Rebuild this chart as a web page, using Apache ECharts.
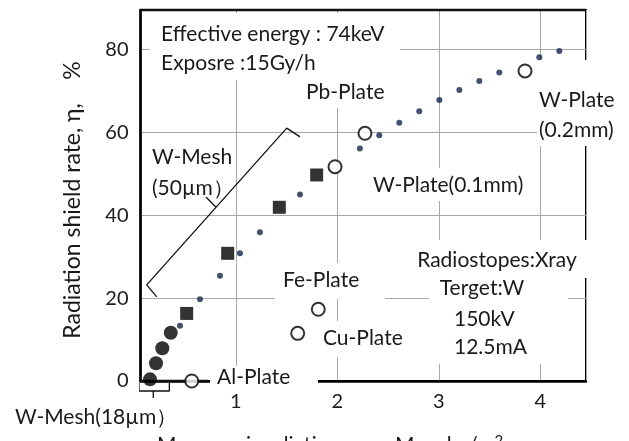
<!DOCTYPE html>
<html>
<head>
<meta charset="utf-8">
<script src="https://cdn.jsdelivr.net/npm/echarts@6/dist/echarts.min.js"></script>
<style>
html, body { margin: 0; padding: 0; background: #fff; }
#chart { width: 629px; height: 441px; }
</style>
</head>
<body>
<div id="chart"></div>
<script>
// Mass per irradiation area (kg/m2) vs radiation shield rate (%)
const xRange = [0.06, 4.45];
const yRange = [0, 89.5];

// stacked W-Mesh (18 µm) layers
const mesh18 = [[0.154, 0.4], [0.213, 4.27], [0.275, 7.89], [0.358, 11.65]];
// stacked W-Mesh (50 µm) layers
const mesh50 = [[0.515, 16.3], [0.919, 30.8], [1.428, 41.9], [1.796, 49.7]];
// calculated W shield curve
const wCurve = [
  [0.449, 13.3], [0.646, 19.7], [0.843, 25.4], [1.040, 30.8], [1.237, 35.9],
  [1.632, 45.0], [2.222, 56.1], [2.413, 59.3], [2.610, 62.3], [2.807, 65.1],
  [3.005, 67.8], [3.202, 70.2], [3.399, 72.4], [3.596, 74.4], [3.990, 78.1],
  [4.187, 79.6]
];
// metal plates
const plateNames = ['Al-Plate', 'Cu-Plate', 'Fe-Plate', 'W-Plate(0.1mm)', 'Pb-Plate', 'W-Plate(0.2mm)'];
const plateMass = [0.565, 1.609, 1.812, 1.977, 2.272, 3.849];
const plateRate = [0, 11.5, 17.3, 51.7, 59.75, 74.8];

// bracket grouping the 50 µm mesh layers
const bracket50 = [[0.220, 20.3], [0.121, 23.2], [1.501, 61.0], [1.632, 58.9]];
const bracket50Tick = [[0.804, 41.9], [0.705, 44.4]];
// bracket under the 18 µm mesh
const bracket18 = [[0.045, -0.48], [0.045, -2.41], [0.344, -2.41], [0.344, -0.48]];
const bracket18Tick = [[0.186, -2.41], [0.186, -4.1]];
// leader to the Al plate
const alLeader = [[0.06, 0], [0.725, 0]];
// top edge of the frame
const topEdge = [[xRange[0], yRange[1]], [xRange[1], yRange[1]]];

const FONT = 'Lato, "Noto Sans", sans-serif';
const TXT = '#1a1a1a';
const SIZE = 21;

const chart = echarts.init(document.getElementById('chart'), null, { renderer: 'canvas' });

function box(x, y, w, h) {
  return { type: 'rect', z: 1, silent: true, shape: { x: x, y: y, width: w, height: h }, style: { fill: '#fff' } };
}
function label(text, x, y, align, size) {
  return {
    type: 'text', z: 5, silent: true,
    style: { text: text, x: x, y: y, fill: TXT, font: (size || SIZE) + 'px ' + FONT,
             align: align || 'left', verticalAlign: 'middle' }
  };
}
function bracketSeries(data, width) {
  return {
    type: 'line', data: data, symbol: 'none', clip: false, silent: true, z: 3,
    lineStyle: { color: '#111', width: width || 1.3 }, animation: false
  };
}

chart.setOption({
  animation: false,
  backgroundColor: '#fff',
  grid: {
    left: 140.5, top: 10, width: 445.5, height: 371,
    show: true, borderColor: '#000', borderWidth: 2, backgroundColor: 'transparent'
  },
  xAxis: {
    type: 'value', min: xRange[0], max: xRange[1], splitNumber: 4,
    axisLine: { show: true, onZero: false, lineStyle: { color: '#000', width: 2.5 } },
    axisTick: { show: false },
    axisLabel: {
      color: TXT, fontSize: 20, fontFamily: FONT, margin: 11,
      showMinLabel: false, showMaxLabel: false,
      formatter: v => (Number.isInteger(v) ? String(v) : '')
    },
    splitLine: { show: true, lineStyle: { color: '#a8a8a8', width: 1 } }
  },
  yAxis: {
    type: 'value', min: yRange[0], max: yRange[1], interval: 20,
    axisLine: { show: true, onZero: false, lineStyle: { color: '#000', width: 2.5 } },
    axisTick: { show: false },
    axisLabel: {
      color: TXT, fontSize: 20, fontFamily: FONT, margin: 12, showMaxLabel: false,
      formatter: v => (v % 20 === 0 ? String(v) : '')
    },
    splitLine: { show: true, lineStyle: { color: '#a8a8a8', width: 1 } }
  },
  series: [
    bracketSeries(topEdge, 2.5),
    bracketSeries(bracket50),
    bracketSeries(bracket50Tick),
    bracketSeries(bracket18),
    bracketSeries(bracket18Tick),
    bracketSeries(alLeader, 2.5),
    {
      name: 'W curve', type: 'scatter', data: wCurve, symbol: 'circle', symbolSize: 6, z: 4,
      itemStyle: { color: '#14244a' }
    },
    {
      name: 'W-Mesh(18µm)', type: 'scatter', data: mesh18, symbol: 'circle', symbolSize: 14, z: 4,
      itemStyle: { color: '#000' }
    },
    {
      name: 'W-Mesh(50µm)', type: 'scatter', data: mesh50, symbol: 'rect', symbolSize: 13, z: 4,
      itemStyle: { color: '#000' }
    },
    {
      name: 'Plates', type: 'scatter', clip: false, z: 4,
      data: plateNames.map((n, i) => ({ name: n, value: [plateMass[i], plateRate[i]] })),
      symbol: 'circle', symbolSize: 13,
      itemStyle: { color: '#fff', borderColor: '#000', borderWidth: 2 }
    }
  ],
  graphic: [
    // white backing behind the annotation text
    box(150, 13, 250, 67),
    box(300, 78, 92, 30),
    box(537, 60, 88, 86),
    box(368, 168, 172, 33),
    box(275, 263, 110, 36),
    box(318, 321, 92, 36),
    box(429, 240, 139, 124),
    box(408, 240, 182, 38),
    box(210, 366, 108, 22),

    label('Effective energy : 74keV', 161, 34),
    label('Exposre :15Gy/h', 161, 63),
    label('Pb-Plate', 306, 92),
    label('W-Plate', 539, 100),
    label('(0.2mm)', 539, 130),
    label('W-Mesh', 152, 157),
    label('(50µm）', 152, 188),
    label('W-Plate(0.1mm)', 373, 185),
    label('Fe-Plate', 283, 280),
    label('Cu-Plate', 323, 338),
    label('Al-Plate', 217, 377),
    label('W-Mesh(18µm）', 15, 417),
    label('Radiostopes:Xray', 497, 260, 'center'),
    label('Terget:W', 482, 288, 'center'),
    label('150kV', 454, 319),
    label('12.5mA', 454, 347),
    {
      type: 'text', z: 5, silent: true, x: 73, y: 200, rotation: Math.PI / 2,
      style: { text: 'Radiation shield rate, η,    %', x: 0, y: 0, fill: TXT,
               font: '23px ' + FONT, align: 'center', verticalAlign: 'middle' }
    },
    {
      type: 'text', z: 5, silent: true,
      style: {
        x: 157, y: 445, verticalAlign: 'middle', align: 'left', fill: TXT, font: SIZE + 'px ' + FONT,
        text: '{t|Mass per irradiation area, M      kg/m}{s|2}',
        rich: {
          t: { fontSize: SIZE, fontFamily: FONT, fill: TXT },
          s: { fontSize: 15, fontFamily: FONT, fill: TXT, verticalAlign: 'top', padding: [0, 0, 8, 0] }
        }
      }
    }
  ]
});
</script>
</body>
</html>
